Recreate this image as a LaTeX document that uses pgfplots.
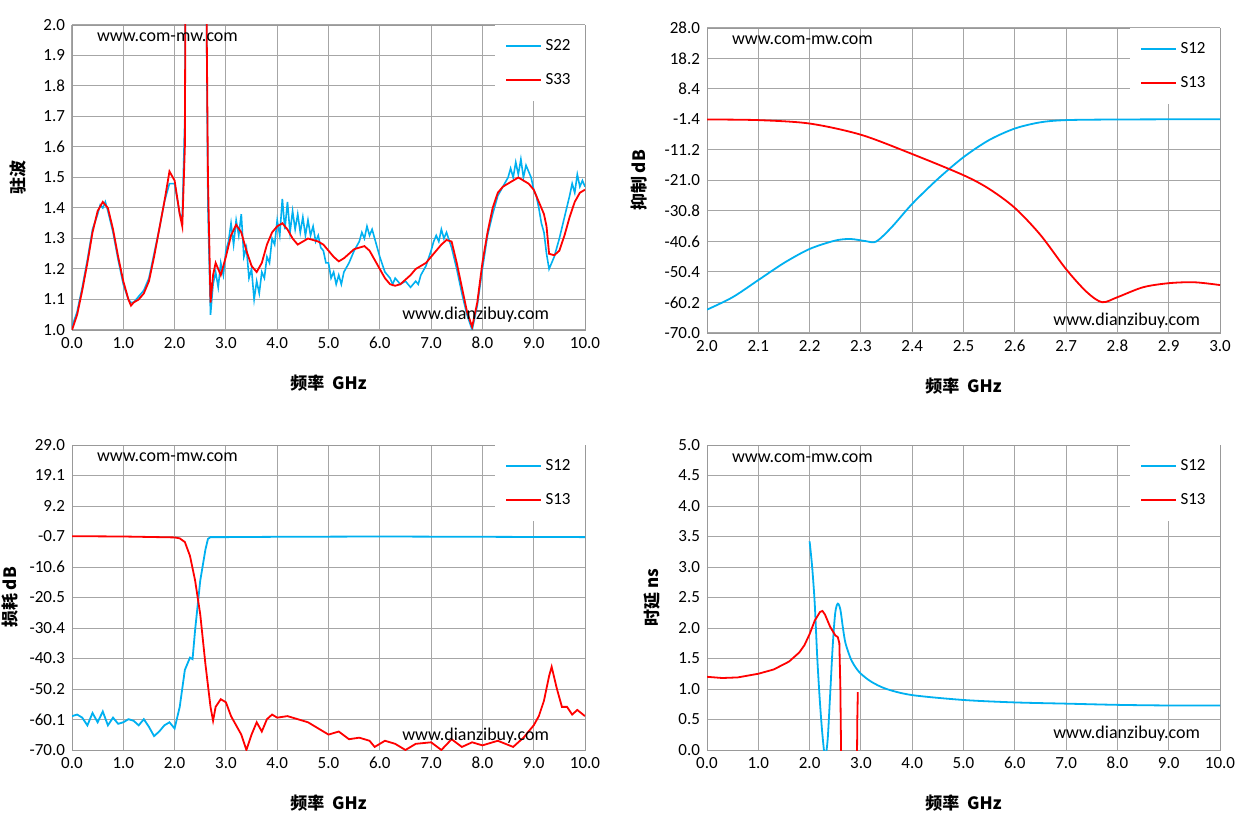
\documentclass[border=0pt]{standalone}
\usepackage{pgfplots}
\pgfplotsset{compat=1.18}
\usepackage{fontspec}
\setmainfont{Carlito}
\newfontfamily\cjk{Noto Sans CJK SC}
\definecolor{sblue}{RGB}{0,176,240}
\definecolor{sred}{RGB}{255,0,0}
\tikzset{wm/.style={font=\fontsize{9}{10}\selectfont}}
\pgfplotsset{
  myax/.style={scale only axis, width=256.5pt, height=152.5pt,
    grid=major, major grid style={gray!70, line width=0.5pt},
    axis line style={gray!80}, tick style={draw=none},
    tick label style={font=\fontsize{8.5}{9}\selectfont},
    /pgf/number format/assume math mode=true,
    /pgf/number format/.cd, fixed, fixed zerofill, precision=1, /pgfplots/.cd,
    xlabel style={font=\cjk\bfseries\fontsize{8.5}{9}\selectfont, yshift=-6pt},
    ylabel style={font=\cjk\bfseries\fontsize{8.5}{9}\selectfont, yshift=2pt},
    legend style={draw=none, fill=white, at={(1,1)}, anchor=north east, font=\fontsize{8.5}{9}\selectfont, row sep=6pt, inner sep=5pt},
    legend cell align=left,
    legend image post style={line width=1pt},
    clip=true}
}
\begin{document}
\begin{tikzpicture}
\path[use as bounding box] (0,0) rectangle (623.5pt,417.5pt);
% ---------- top left
\begin{axis}[myax, at={(36pt,252.5pt)}, anchor=south west,
  xmin=0, xmax=10, ymin=1, ymax=2, xtick={0,1,...,10}, ytick={1,1.1,...,2.01},
  xlabel={频率\ \ GHz}, ylabel={驻波}]
\addplot[sblue, line width=0.8pt] coordinates {
(0,1.01)(0.1,1.06)(0.2,1.14)(0.3,1.23)(0.4,1.33)(0.5,1.38)(0.55,1.41)(0.6,1.40)(0.65,1.42)(0.7,1.39)(0.8,1.32)(0.9,1.23)(1.0,1.15)(1.1,1.10)(1.15,1.09)(1.2,1.09)(1.3,1.11)(1.4,1.13)(1.5,1.17)(1.6,1.25)(1.7,1.33)(1.8,1.42)(1.9,1.48)(2.0,1.48)(2.1,1.38)(2.15,1.37)(2.2,1.7)(2.22,2.5)(2.6,2.5)(2.65,1.4)(2.7,1.05)(2.75,1.15)(2.8,1.19)(2.85,1.14)(2.9,1.22)(2.95,1.18)(3.0,1.26)(3.05,1.29)(3.1,1.35)(3.15,1.28)(3.2,1.36)(3.25,1.31)(3.3,1.38)(3.35,1.24)(3.4,1.27)(3.45,1.17)(3.5,1.20)(3.55,1.10)(3.6,1.16)(3.65,1.12)(3.7,1.19)(3.75,1.17)(3.8,1.24)(3.85,1.22)(3.9,1.30)(3.95,1.28)(4.0,1.36)(4.05,1.31)(4.1,1.43)(4.15,1.33)(4.2,1.42)(4.25,1.32)(4.3,1.39)(4.35,1.33)(4.4,1.38)(4.45,1.32)(4.5,1.37)(4.55,1.31)(4.6,1.36)(4.65,1.31)(4.7,1.34)(4.75,1.29)(4.8,1.31)(4.85,1.27)(4.9,1.26)(4.95,1.22)(5.0,1.22)(5.05,1.17)(5.1,1.19)(5.15,1.15)(5.2,1.18)(5.25,1.15)(5.3,1.19)(5.4,1.22)(5.5,1.26)(5.6,1.29)(5.65,1.32)(5.7,1.30)(5.75,1.34)(5.8,1.31)(5.85,1.33)(5.9,1.30)(6.0,1.24)(6.1,1.19)(6.2,1.17)(6.25,1.15)(6.3,1.17)(6.4,1.15)(6.5,1.16)(6.6,1.14)(6.7,1.16)(6.75,1.15)(6.8,1.18)(6.9,1.21)(7.0,1.26)(7.05,1.29)(7.1,1.31)(7.15,1.29)(7.2,1.33)(7.25,1.30)(7.3,1.32)(7.4,1.27)(7.5,1.20)(7.6,1.12)(7.7,1.05)(7.8,1.00)(7.9,1.08)(8.0,1.20)(8.1,1.31)(8.2,1.38)(8.3,1.44)(8.4,1.47)(8.5,1.50)(8.55,1.53)(8.6,1.50)(8.65,1.55)(8.7,1.51)(8.75,1.56)(8.8,1.50)(8.85,1.54)(8.9,1.52)(8.95,1.50)(9.0,1.46)(9.05,1.44)(9.1,1.40)(9.15,1.35)(9.2,1.32)(9.25,1.25)(9.3,1.20)(9.35,1.22)(9.4,1.24)(9.5,1.30)(9.6,1.37)(9.7,1.44)(9.75,1.48)(9.8,1.45)(9.85,1.51)(9.9,1.47)(9.95,1.49)(10,1.47)};
\addlegendentry{S22}
\addplot[sred, line width=0.9pt] coordinates {
(0,1.0)(0.1,1.05)(0.2,1.13)(0.3,1.22)(0.4,1.32)(0.5,1.39)(0.6,1.42)(0.7,1.40)(0.8,1.33)(0.9,1.24)(1.0,1.16)(1.1,1.10)(1.15,1.08)(1.2,1.09)(1.3,1.10)(1.4,1.12)(1.5,1.16)(1.6,1.24)(1.7,1.33)(1.8,1.42)(1.9,1.52)(2.0,1.49)(2.1,1.38)(2.15,1.34)(2.2,1.6)(2.22,2.5)(2.6,2.5)(2.65,1.5)(2.7,1.09)(2.75,1.18)(2.8,1.22)(2.85,1.20)(2.9,1.18)(3.0,1.24)(3.1,1.31)(3.2,1.345)(3.3,1.32)(3.4,1.26)(3.5,1.21)(3.6,1.19)(3.7,1.22)(3.8,1.28)(3.9,1.32)(4.0,1.34)(4.1,1.35)(4.2,1.33)(4.3,1.30)(4.4,1.28)(4.5,1.29)(4.6,1.30)(4.8,1.29)(4.9,1.28)(5.0,1.26)(5.1,1.24)(5.2,1.225)(5.3,1.235)(5.4,1.25)(5.5,1.265)(5.6,1.27)(5.7,1.275)(5.8,1.26)(5.9,1.23)(6.0,1.20)(6.1,1.17)(6.2,1.15)(6.3,1.145)(6.4,1.15)(6.5,1.165)(6.6,1.18)(6.7,1.20)(6.8,1.21)(6.9,1.22)(7.0,1.24)(7.1,1.26)(7.2,1.28)(7.3,1.295)(7.4,1.29)(7.5,1.22)(7.6,1.14)(7.7,1.06)(7.8,1.01)(7.9,1.09)(8.0,1.22)(8.1,1.32)(8.2,1.40)(8.3,1.45)(8.4,1.47)(8.5,1.48)(8.6,1.49)(8.7,1.50)(8.8,1.49)(8.9,1.48)(9.0,1.46)(9.1,1.42)(9.2,1.38)(9.25,1.34)(9.3,1.25)(9.4,1.245)(9.5,1.26)(9.6,1.31)(9.7,1.37)(9.8,1.42)(9.9,1.45)(10,1.46)};
\addlegendentry{S33}
\node[wm, anchor=west] at (axis cs:0.35,1.96) {www.com-mw.com};
\node[wm, anchor=west] at (axis cs:6.3,1.05) {www.dianzibuy.com};
\end{axis}
% ---------- top right
\begin{axis}[myax, at={(353.5pt,251pt)}, anchor=south west,
  xmin=2, xmax=3, ymin=-70, ymax=28, xtick={2,2.1,...,3.01}, ytick={-70,-60.2,...,28.1},
  xlabel={频率\ \ GHz}, ylabel={抑制 dB}]
\addplot[sblue, line width=0.9pt, smooth] coordinates {
(2.0,-62.5)(2.05,-58.5)(2.1,-53)(2.15,-47.5)(2.2,-43)(2.25,-40.3)(2.28,-39.8)(2.31,-40.5)(2.33,-40.6)(2.36,-36)(2.4,-28.5)(2.45,-20.5)(2.5,-13.5)(2.55,-8)(2.6,-4.3)(2.65,-2.3)(2.7,-1.6)(2.8,-1.4)(3.0,-1.3)};
\addlegendentry{S12}
\addplot[sred, line width=0.9pt, smooth] coordinates {
(2.0,-1.4)(2.1,-1.6)(2.2,-2.7)(2.3,-6.3)(2.4,-12.5)(2.5,-19.3)(2.55,-23.7)(2.6,-29.8)(2.65,-38.5)(2.7,-49.5)(2.74,-56.8)(2.77,-60.1)(2.8,-58.5)(2.85,-55.3)(2.9,-54)(2.95,-53.7)(3.0,-54.6)};
\addlegendentry{S13}
\node[wm, anchor=west] at (axis cs:2.035,24) {www.com-mw.com};
\node[wm, anchor=east] at (axis cs:2.975,-66) {www.dianzibuy.com};
\end{axis}
% ---------- bottom left
\begin{axis}[myax, at={(36pt,42.5pt)}, anchor=south west,
  xmin=0, xmax=10, ymin=-70, ymax=29, xtick={0,1,...,10}, ytick={-70,-60.1,...,29.1},
  xlabel={频率\ \ GHz}, ylabel={损耗 dB}, ylabel style={yshift=-3pt}]
\addplot[sblue, line width=0.9pt] coordinates {
(0,-59)(0.1,-58.5)(0.2,-59.5)(0.3,-62)(0.4,-58)(0.5,-61)(0.6,-57.5)(0.7,-62)(0.8,-59.5)(0.9,-61.5)(1.0,-61)(1.1,-60)(1.2,-60.5)(1.3,-62)(1.4,-60)(1.5,-62.5)(1.6,-65.5)(1.7,-64)(1.8,-62)(1.9,-61)(2.0,-63)(2.1,-56)(2.2,-44)(2.3,-40)(2.35,-40.5)(2.4,-31)(2.5,-15)(2.6,-5)(2.65,-1.5)(2.7,-0.9)(3.0,-0.9)(4.0,-0.8)(6.0,-0.7)(8.0,-0.8)(10,-0.9)};
\addlegendentry{S12}
\addplot[sred, line width=0.9pt] coordinates {
(0,-0.6)(1.0,-0.7)(2.0,-1.0)(2.1,-1.3)(2.2,-2.5)(2.3,-7)(2.4,-15)(2.5,-26)(2.6,-42)(2.7,-56)(2.75,-60.5)(2.8,-56)(2.9,-53.5)(3.0,-54.5)(3.1,-59)(3.2,-62)(3.3,-65)(3.4,-70)(3.5,-65)(3.6,-61)(3.7,-64)(3.8,-60)(3.9,-58.5)(4.0,-59.5)(4.2,-59)(4.4,-60)(4.6,-61)(4.8,-63)(5.0,-65)(5.2,-64)(5.4,-66.5)(5.6,-66)(5.8,-67)(5.9,-69)(6.1,-67)(6.3,-68)(6.5,-70)(6.7,-68)(7.0,-67.5)(7.2,-70)(7.4,-66.5)(7.6,-69)(7.8,-67.5)(8.0,-68.5)(8.3,-67)(8.6,-69)(8.8,-66)(9.0,-62)(9.1,-59)(9.2,-54)(9.3,-46)(9.35,-43)(9.45,-50)(9.55,-56)(9.65,-56)(9.75,-58.5)(9.85,-57)(10,-59)};
\addlegendentry{S13}
\node[wm, anchor=west] at (axis cs:0.35,25) {www.com-mw.com};
\node[wm, anchor=west] at (axis cs:6.3,-65.5) {www.dianzibuy.com};
\end{axis}
% ---------- bottom right
\begin{axis}[myax, at={(353.5pt,42.5pt)}, anchor=south west,
  xmin=0, xmax=10, ymin=0, ymax=5, xtick={0,1,...,10}, ytick={0,0.5,...,5.01},
  xlabel={频率\ \ GHz}, ylabel={时延 ns}, unbounded coords=jump]
\addplot[sblue, line width=0.9pt, smooth] coordinates {
(2.0,3.42)(2.05,3.0)(2.1,2.4)(2.15,1.5)(2.2,0.8)(2.25,0.25)(2.3,-0.1)(2.35,0.15)(2.4,0.9)(2.45,1.7)(2.5,2.25)(2.55,2.4)(2.6,2.3)(2.65,2.0)(2.7,1.75)(2.8,1.5)(2.9,1.35)(3.0,1.25)(3.2,1.12)(3.5,1.0)(4,0.9)(5,0.82)(6,0.78)(7,0.76)(8,0.74)(9,0.73)(10,0.73)};
\addlegendentry{S12}
\addplot[sred, line width=0.9pt] coordinates {
(0,1.2)(0.3,1.18)(0.6,1.19)(1.0,1.25)(1.3,1.32)(1.6,1.45)(1.8,1.6)(1.9,1.72)(2.0,1.9)(2.1,2.12)(2.2,2.26)(2.25,2.28)(2.3,2.22)(2.4,2.02)(2.5,1.88)(2.55,1.85)(2.58,1.75)(2.6,1.0)(2.62,-0.5)(2.63,nan)(2.92,-0.5)(2.93,0.5)(2.94,0.95)};
\addlegendentry{S13}
\node[wm, anchor=west] at (axis cs:0.35,4.78) {www.com-mw.com};
\node[wm, anchor=east] at (axis cs:9.75,0.27) {www.dianzibuy.com};
\end{axis}
\end{tikzpicture}
\end{document}
